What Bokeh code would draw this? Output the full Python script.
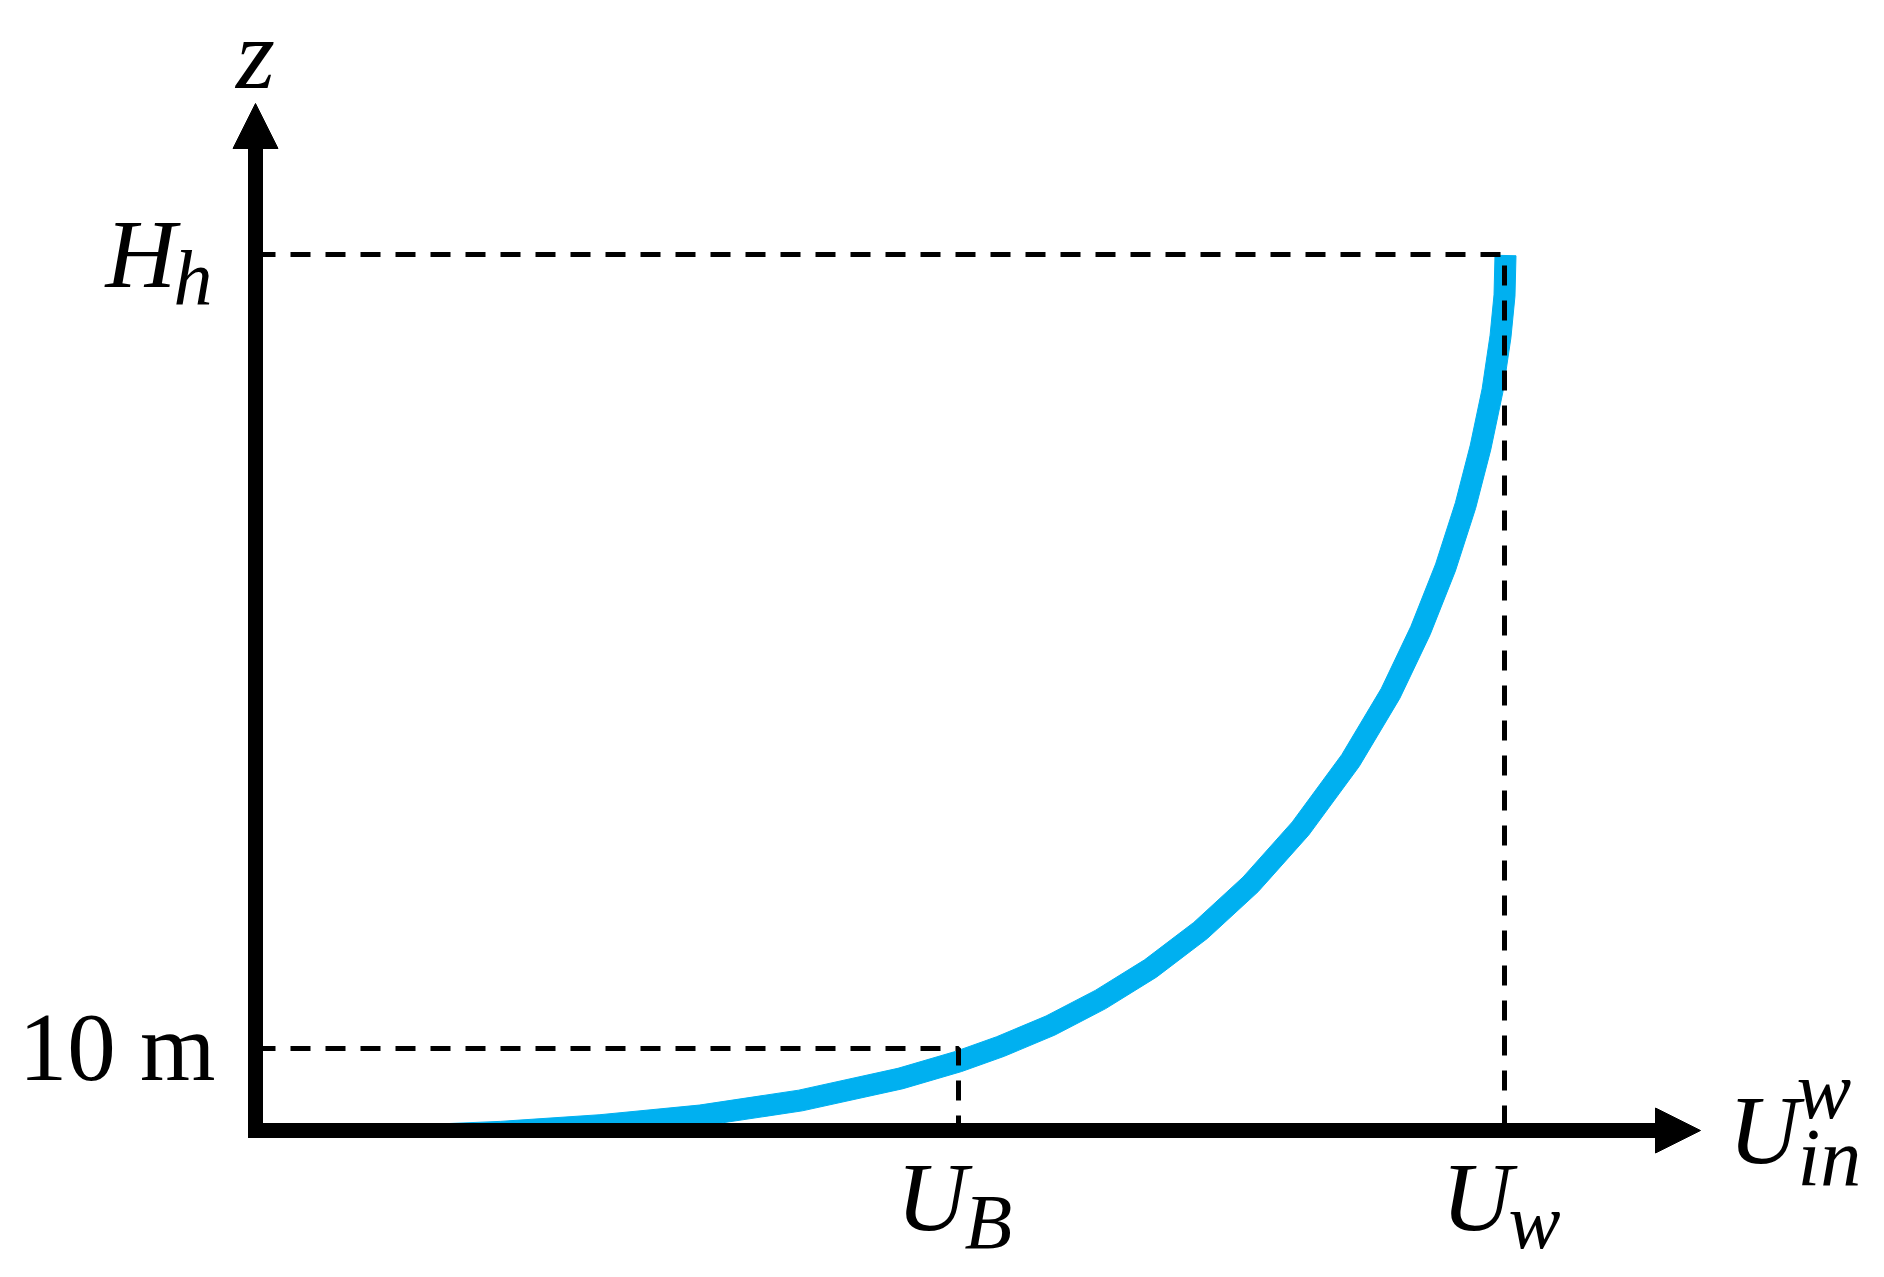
import numpy as np
from bokeh.plotting import figure
from bokeh.models import Range1d, Arrow, NormalHead
from bokeh.core.properties import value
from bokeh.embed import file_html
from bokeh.resources import INLINE

# ---- data (arbitrary schematic units: U to the right, z upwards) ----
U_profile = [165, 245, 345, 445, 545, 645, 703, 745, 795, 845, 895, 945, 995,
             1045, 1095, 1135, 1165, 1190, 1210, 1225, 1237, 1245, 1249, 1250]
z_profile = [0, 2, 7, 15, 30, 52, 69, 84, 105, 131, 162, 200, 246,
             302, 370, 437, 500, 563, 625, 683, 740, 794, 835, 875]

H_h = 876        # hub height level
z_10 = 82        # 10 m reference level
U_B = 703        # wind speed at 10 m
U_W = 1249       # wind speed at hub height
U_axis_end = 1445
z_axis_end = 1027

z_ticks = [H_h, z_10]
u_ticks = [U_B, U_W]

W, H = 1868, 1272
p = figure(width=W, height=H, output_backend="svg", toolbar_location=None,
           x_axis_type=None, y_axis_type=None, min_border=0,
           x_range=Range1d(-255, 1613), y_range=Range1d(1130 - H, 1130))
p.outline_line_color = None
p.background_fill_color = "white"
p.border_fill_color = "white"
p.grid.visible = False

BLUE = "#00B0F0"
SERIF = value("Liberation Serif")

# profile curve drawn as a ribbon that tapers where it leaves the axis
# (one data unit is one screen pixel on both axes here)
u = np.array(U_profile, float)
zz = np.array(z_profile, float)
tu = np.gradient(u)
tz = np.gradient(zz)
norm = np.hypot(tu, tz)
nu, nz = -tz / norm, tu / norm
half = 10.5 * np.minimum(1.0, 0.55 + 0.45 * (u - u[0]) / 280.0)
xs = np.concatenate([u + nu * half, (u - nu * half)[::-1]])
ys = np.concatenate([zz + nz * half, (zz - nz * half)[::-1]])
p.patch(xs, ys, fill_color=BLUE, line_color=BLUE, line_width=1, line_join="round")

# dashed guides
p.line([0, U_W, U_W], [H_h, H_h, 0], line_dash="20 15", line_width=5, color="black")
p.line([0, U_B, U_B], [z_10, z_10, 0], line_dash="20 15", line_width=5, color="black")

# axes shafts
p.segment(x0=[0, -7.5], y0=[-7.5, 0], x1=[0, U_axis_end - 40], y1=[z_axis_end - 40, 0],
          line_width=15, color="black", line_cap="butt")
# arrow heads
for xs0, ys0, xe, ye in [(0, z_axis_end - 2, 0, z_axis_end), (U_axis_end - 2, 0, U_axis_end, 0)]:
    p.add_layout(Arrow(end=NormalHead(size=45, fill_color="black", line_color="black", line_width=1),
                       x_start=xs0, y_start=ys0, x_end=xe, y_end=ye, line_color=None))

MAIN = 98
SUB = 78

def label(x, y, txt, dx, dy, size, style="italic", align="left"):
    # the renderer puts the alphabetic baseline about 0.34 em low; compensate
    p.text(x=[x], y=[y], text=[txt], x_offset=dx, y_offset=dy - 0.34 * size, text_font=SERIF,
           text_font_size=value(f"{size}px"), text_font_style=style, text_align=align,
           text_baseline="alphabetic", text_color="black")

# z axis title
label(0, z_axis_end, "z", 0, -15, 100, align="center")
# H_h
label(0, z_ticks[0], "H", -150, 33, MAIN)
label(0, z_ticks[0], "h", -82, 51, SUB)
# 10 m
label(0, z_ticks[1], "10 m", -40, 32, 97, style="normal", align="right")
# U_B
label(u_ticks[0], 0, "U", -62, 100, MAIN)
label(u_ticks[0], 0, "B", 6, 118, SUB)
# U_w
label(u_ticks[1], 0, "U", -63, 100, MAIN)
label(u_ticks[1], 0, "w", 4, 118, SUB)
# U_in^w
label(U_axis_end, 0, "U", 28, 33, MAIN)
label(U_axis_end, 0, "w", 96, -12, 82)
label(U_axis_end, 0, "in", 97, 55, 82)

open("out.html", "w").write(file_html(p, INLINE))
